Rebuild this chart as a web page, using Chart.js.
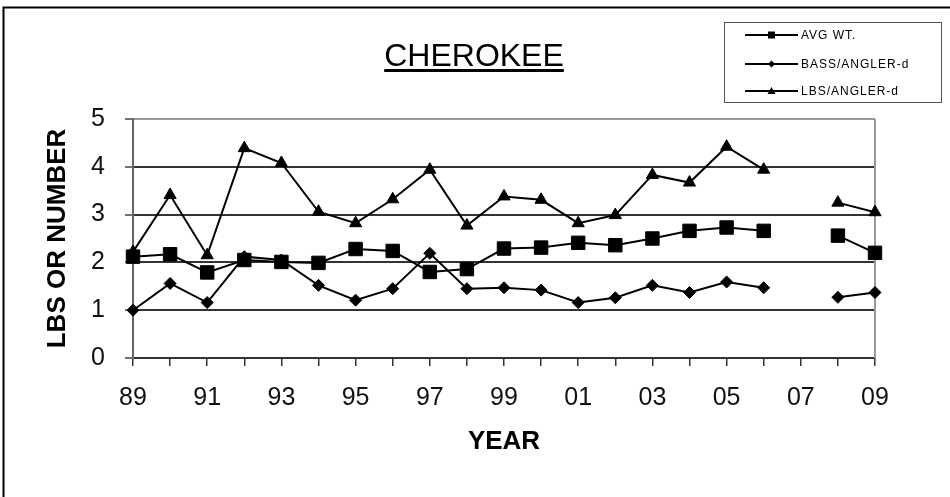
<!DOCTYPE html>
<html>
<head>
<meta charset="utf-8">
<script src="https://cdn.jsdelivr.net/npm/chart.js"></script>
<style>
  html, body { margin: 0; padding: 0; background: #fff; }
</style>
</head>
<body>
<canvas id="myChart" width="950" height="497"></canvas>
<script>
const years = ['89','90','91','92','93','94','95','96','97','98','99','00','01','02','03','04','05','06','07','08','09'];
const avgWt = [2.12,2.17,1.79,2.05,2.01,1.99,2.28,2.24,1.80,1.86,2.29,2.31,2.41,2.36,2.50,2.66,2.73,2.66,null,2.56,2.20];
const bassPerAngler = [1.00,1.56,1.16,2.12,2.05,1.52,1.21,1.45,2.19,1.45,1.47,1.42,1.16,1.26,1.52,1.37,1.59,1.47,null,1.27,1.37];
const lbsPerAngler = [2.22,3.41,2.15,4.39,4.08,3.06,2.82,3.32,3.94,2.77,3.38,3.31,2.82,2.99,3.83,3.67,4.42,3.94,null,3.25,3.05];
const seriesNames = ['AVG WT.', 'BASS/ANGLER-d', 'LBS/ANGLER-d'];
const chartTitle = 'CHEROKEE';

const FONT = '"Liberation Sans", Arial, Helvetica, sans-serif';
Chart.defaults.font.family = FONT;
Chart.defaults.color = '#000';

// small marker shapes for the legend box
function marker(ctx, style, x, y) {
  ctx.beginPath();
  if (style === 'rect') {
    ctx.rect(x - 3.5, y - 3.5, 7, 7);
  } else if (style === 'rectRot') {
    ctx.moveTo(x - 3.5, y); ctx.lineTo(x, y - 3.5);
    ctx.lineTo(x + 3.5, y); ctx.lineTo(x, y + 3.5);
  } else {
    ctx.moveTo(x, y - 4); ctx.lineTo(x + 4, y + 3); ctx.lineTo(x - 4, y + 3);
  }
  ctx.closePath();
  ctx.fill();
}

const decor = {
  id: 'decor',
  beforeDraw(chart) {
    const ctx = chart.ctx;
    ctx.save();
    ctx.fillStyle = '#fff';
    ctx.fillRect(0, 0, chart.width, chart.height);
    // outer frame (only top and left edges show)
    ctx.strokeStyle = '#000';
    ctx.lineWidth = 2;
    ctx.beginPath();
    ctx.moveTo(3.5, chart.height);
    ctx.lineTo(3.5, 7.5);
    ctx.lineTo(chart.width, 7.5);
    ctx.stroke();
    ctx.restore();
  },
  beforeDatasetsDraw(chart) {
    const {ctx, chartArea: a} = chart;
    ctx.save();
    ctx.strokeStyle = '#999';
    ctx.lineWidth = 2;
    ctx.beginPath();
    ctx.moveTo(a.right, a.top);
    ctx.lineTo(a.right, a.bottom);
    ctx.stroke();
    ctx.restore();
  },
  afterDraw(chart) {
    const ctx = chart.ctx;
    ctx.save();
    // title, underlined
    ctx.font = '32px ' + FONT;
    ctx.fillStyle = '#000';
    ctx.textAlign = 'center';
    ctx.textBaseline = 'alphabetic';
    ctx.fillText(chartTitle, 474, 66);
    const w = ctx.measureText(chartTitle).width;
    ctx.fillRect(474 - w / 2, 69, w, 3);

    // legend box
    ctx.strokeStyle = '#555';
    ctx.lineWidth = 1;
    ctx.strokeRect(724.5, 22.5, 217, 80);
    ctx.font = '12px ' + FONT;
    if ('letterSpacing' in ctx) ctx.letterSpacing = '1px';
    ctx.textAlign = 'left';
    ctx.textBaseline = 'middle';
    const rows = [35, 64, 91];
    chart.data.datasets.forEach((ds, i) => {
      const y = rows[i];
      ctx.strokeStyle = '#000';
      ctx.lineWidth = 2;
      ctx.beginPath();
      ctx.moveTo(745, y);
      ctx.lineTo(798, y);
      ctx.stroke();
      ctx.fillStyle = '#000';
      marker(ctx, ds.pointStyle, 771.5, y);
      ctx.fillText(ds.label, 801, y + 1);
    });
    ctx.restore();
  }
};

function lineSet(label, data, style, radius) {
  return {
    label: label,
    data: data,
    borderColor: '#000',
    backgroundColor: '#000',
    borderWidth: 2,
    pointStyle: style,
    pointRadius: radius,
    pointHoverRadius: radius,
    pointBackgroundColor: '#000',
    pointBorderColor: '#000',
    pointBorderWidth: 1,
    tension: 0,
    spanGaps: false,
    clip: false
  };
}

new Chart(document.getElementById('myChart'), {
  type: 'line',
  data: {
    labels: years,
    datasets: [
      lineSet(seriesNames[0], avgWt, 'rect', 9.5),
      lineSet(seriesNames[1], bassPerAngler, 'rectRot', 6),
      lineSet(seriesNames[2], lbsPerAngler, 'triangle', 7)
    ]
  },
  options: {
    responsive: false,
    animation: false,
    events: [],
    layout: { padding: { top: 119, right: 75, bottom: 0, left: 0 } },
    plugins: {
      legend: { display: false },
      title: { display: false },
      tooltip: { enabled: false }
    },
    scales: {
      x: {
        type: 'category',
        offset: false,
        afterFit(scale) { scale.height = 139; },
        grid: {
          drawOnChartArea: false,
          drawTicks: true,
          tickLength: 8,
          color: '#333',
          lineWidth: 1.5
        },
        border: { display: true, color: '#333', width: 2 },
        ticks: {
          autoSkip: false,
          maxRotation: 0,
          padding: 20,
          color: '#111',
          font: { size: 25, lineHeight: 1 },
          callback(value, index) {
            return index % 2 === 0 ? this.getLabelForValue(value) : '';
          }
        },
        title: {
          display: true,
          text: 'YEAR',
          color: '#000',
          font: { size: 26, weight: 'bold', lineHeight: 1 },
          padding: { top: 0, bottom: 42 }
        }
      },
      y: {
        min: 0,
        max: 5,
        afterFit(scale) { scale.width = 133; },
        grid: {
          drawTicks: true,
          tickLength: 8,
          color(c) { return c.tick && c.tick.value === 5 ? '#999' : '#333'; },
          lineWidth: 2,
          tickColor: '#444',
          tickWidth: 1.5
        },
        border: { display: true, color: '#666', width: 2 },
        ticks: {
          stepSize: 1,
          padding: 20,
          color: '#111',
          font: { size: 25, lineHeight: 1 }
        },
        title: {
          display: true,
          text: 'LBS OR NUMBER',
          color: '#000',
          font: { size: 26, weight: 'bold', lineHeight: 1 },
          padding: { top: 45, bottom: 0 }
        }
      }
    }
  },
  plugins: [decor]
});
</script>
</body>
</html>
